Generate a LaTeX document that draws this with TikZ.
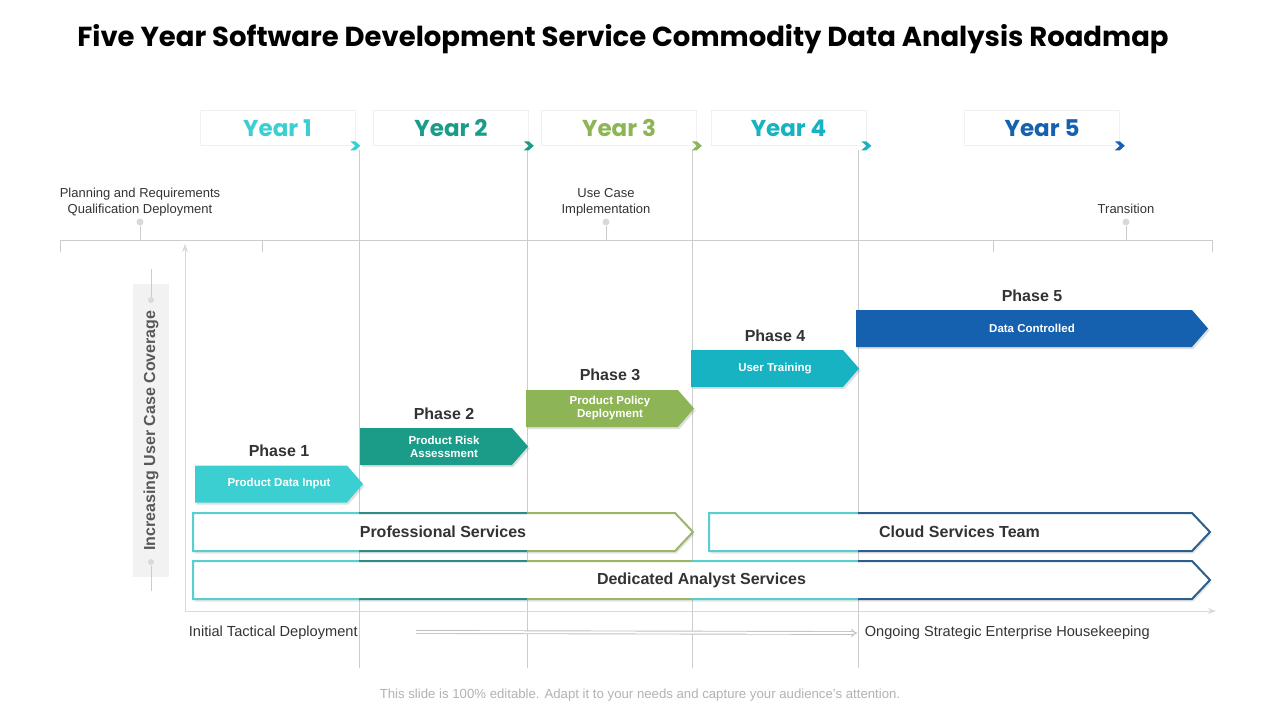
\documentclass[tikz,border=0pt]{standalone}
\usepackage{fontspec}
\setmainfont{Liberation Sans}
\newfontfamily\poppins{Poppins}
\usetikzlibrary{positioning,shapes.symbols,shadows,arrows.meta}
\definecolor{txt}{HTML}{333333}
\definecolor{cyanA}{HTML}{3CCFD2}
\definecolor{tealA}{HTML}{1B9C88}
\definecolor{greenA}{HTML}{8DB556}
\definecolor{cyanB}{HTML}{17B3C2}
\definecolor{blueA}{HTML}{1560AF}
\definecolor{bdA}{HTML}{5ACDD0}
\definecolor{bdB}{HTML}{2E8C84}
\definecolor{bdC}{HTML}{9BB56A}
\definecolor{bdD}{HTML}{2D5E8E}

\begin{document}
\begin{tikzpicture}[x=1pt,y=-1pt,line width=1pt,>={Stealth[length=8pt,width=6pt]},
gridl/.style={draw=gray!40,line width=0.8pt},
yearbox/.style={draw=gray!12,line width=0.6pt,fill=white,minimum width=155pt,minimum height=35pt,inner sep=0pt,font=\poppins\bfseries\fontsize{23}{26}\selectfont},
phase/.style={signal,signal to=east,signal pointer angle=98,minimum width=168pt,minimum height=37pt,inner sep=0pt,drop shadow={opacity=0.25,shadow xshift=1.5pt,shadow yshift=-2pt}},
phtxt/.style={text=white,align=center,font=\bfseries\fontsize{11.5}{13}\selectfont},
phlab/.style={font=\bfseries\fontsize{16}{18}\selectfont,text=txt},
band/.style={signal,signal to=east,signal pointer angle=93,minimum height=38pt,inner sep=0pt},
bandbg/.style={band,fill=white,drop shadow={opacity=0.2,shadow xshift=1.5pt,shadow yshift=-2.5pt}},
bandline/.style={band,draw,line width=2pt},
bandtxt/.style={font=\bfseries\fontsize{16}{18}\selectfont,text=txt},
note/.style={font=\fontsize{13}{16}\selectfont,text=txt,align=center,text depth=0pt},
dotg/.style={circle,fill=gray!30,inner sep=0pt,minimum size=7pt}]
\useasboundingbox (0,0) rectangle (1280,720);
% title
\node[font=\poppins\bfseries\fontsize{27.5}{32}\selectfont] (title) at (623,39) {Five Year Software Development Service Commodity Data Analysis Roadmap};
% year columns
\foreach \x in {359,527,692,858}{\draw[gridl] (\x,150) -- (\x,668);};
\foreach \i/\x/\c in {1/277.5/cyanA,2/451/tealA,3/619/greenA,4/788.5/cyanB,5/1042/blueA}{
\node[yearbox,text=\c] (y\i) at (\x,128) {Year \i};
\fill[\c] (y\i.south east) ++(-5,-4.5) -- ++(5,0) -- ++(5,4.5) -- ++(-5,4.5) -- ++(-5,0) -- ++(5,-4.5) -- cycle;};
% top timeline
\draw[gridl] (60,252) -- (60,240) -- (1212,240) -- (1212,252);
\draw[gridl] (262,240) -- (262,252) (993,240) -- (993,252);
\foreach \i/\x/\t in {1/140/{Planning and Requirements\\Qualification Deployment},2/606/{Use Case\\Implementation},3/1126/{Transition}}{
\node[dotg] (p\i) at (\x,222) {};
\draw[gridl] (p\i.south) -- ++(0,15);
\node[note,above=1pt of p\i] (t\i) {\t};};
% axes
\coordinate (o) at (185,611);
\coordinate (ytop) at (185,244);
\coordinate (xend) at (1216,611);
\draw[draw=gray!30,->] (o) -- (ytop);
\draw[draw=gray!30,->] (o) -- (xend);
% coverage label
\node[rotate=90,fill=gray!10,minimum width=293pt,minimum height=36pt,inner sep=0pt,text=black!65,font=\bfseries\fontsize{16}{18}\selectfont] (cov) at (151,430.5) {Increasing User Case Coverage};
\node[dotg,minimum size=6pt] (c1) at (151,300) {};
\node[dotg,minimum size=6pt] (c2) at (151,562) {};
\draw[gridl] (c1.north) -- ++(0,-28);
\draw[gridl] (c2.south) -- ++(0,25);
% phases
\foreach \i/\x/\y/\w/\c/\t in {1/279/484/168/cyanA/{Product Data Input},2/444/446.5/168/tealA/{Product Risk\\Assessment},3/610/408.5/168/greenA/{Product Policy\\Deployment},4/775/368.5/168/cyanB/{User Training},5/1032/328.5/352/blueA/{Data Controlled}}{
\node[phase,fill=\c,minimum width=\w pt] (ph\i) at (\x-8,\y) {};
\node[phtxt] (pt\i) at (\x,\y) {\t};
\coordinate (m\i) at (\x,\y-18.5);
\node[phlab,above=5pt of m\i] (lab\i) {Phase \i};};
% service bands
\node[bandbg,minimum width=500pt] (ps) at (434,532) {};
\node[bandbg,minimum width=501pt] (cs) at (950.5,532) {};
\node[bandbg,minimum width=1017pt] (da) at (692.5,580) {};
\foreach \n/\w/\xa/\xb/\c in {ps/500/150/359/bdA,ps/500/359/527/bdB,ps/500/527/700/bdC,cs/501/700/858/bdA,cs/501/858/1230/bdD,da/1017/150/359/bdA,da/1017/359/527/bdB,da/1017/527/692/bdC,da/1017/692/858/bdA,da/1017/858/1230/bdD}{
\begin{scope}
\clip (\xa,500) rectangle (\xb,610);
\node[bandline,draw=\c,minimum width=\w pt] at (\n.center) {};
\end{scope}};
\node[bandtxt] (pst) at (443,532) {Professional Services};
\node[bandtxt] (cst) at (959.5,532) {Cloud Services Team};
\node[bandtxt] (dat) at (701.5,580) {Dedicated Analyst Services};
% bottom flow
\node[anchor=west,text=txt,font=\fontsize{14.6}{16}\selectfont] (init) at (185,633) {Initial Tactical Deployment};
\node[anchor=west,text=txt,font=\fontsize{14.6}{16}\selectfont] (ongo) at (861,633) {Ongoing Strategic Enterprise Housekeeping};
\coordinate (flow) at (416,632);
\draw[draw=gray!50,line width=0.9pt,double=white,double distance=2pt,-{Implies},shorten >=4pt] (flow) -- (ongo.west);
% footer
\node[text=gray!60,font=\fontsize{13.2}{15}\selectfont] (foot) at (640,695) {This slide is 100\% editable. Adapt it to your needs and capture your audience’s attention.};
\end{tikzpicture}
\end{document}
